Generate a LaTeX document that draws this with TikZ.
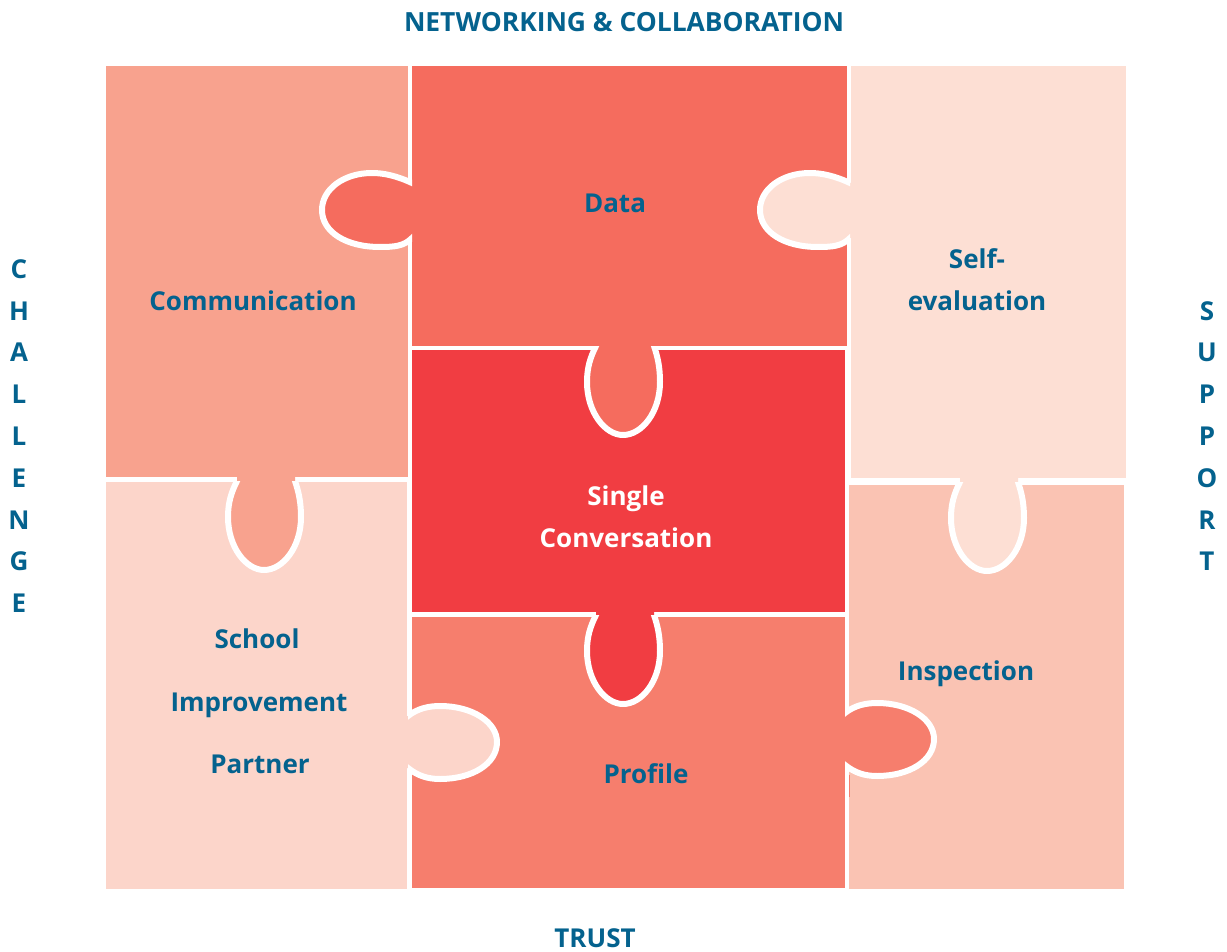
\documentclass[tikz,border=0pt]{standalone}
\usepackage{fontspec}
\setmainfont{Open Sans}[BoldFont={Open Sans Bold}]
\definecolor{ccomm}{HTML}{F8A28E}
\definecolor{cdata}{HTML}{F56C5E}
\definecolor{ccent}{HTML}{F13D42}
\definecolor{cself}{HTML}{FDDFD4}
\definecolor{cschool}{HTML}{FCD5CA}
\definecolor{cprof}{HTML}{F67E6D}
\definecolor{cinsp}{HTML}{FAC3B3}
\definecolor{ctext}{HTML}{04628E}
\tikzset{
  lbl/.style={font=\bfseries\fontsize{26}{41.8}\selectfont,text=ctext,inner sep=0pt,align=center,anchor=base},
  vlbl/.style={lbl,anchor=center},
  titlelbl/.style={lbl,font=\bfseries\fontsize{26.4}{41.8}\selectfont},
  tabline/.style={draw=white,line width=6pt,line join=round},
  lefttab/.pic={\fill[pic actions] (96,-27) -- (90,-27) .. controls (75,-34) and (62,-37) .. (50,-37) .. controls (22,-37) and (0,-21) .. (0,0) .. controls (0,22) and (24,37) .. (58,37) .. controls (73,37) and (82,36) .. (90,28) -- (96,28) -- cycle;
    \begin{scope}\clip (-10,-60) rectangle (90,60);
    \draw[tabline] (100,-22) -- (90,-27) .. controls (75,-34) and (62,-37) .. (50,-37) .. controls (22,-37) and (0,-21) .. (0,0) .. controls (0,22) and (24,37) .. (58,37) .. controls (73,37) and (82,36) .. (90,28) -- (100,18);
    \end{scope}},
  downtab/.pic={\fill[pic actions] (-27,-6) -- (-27,0) .. controls (-33,12) and (-36,22) .. (-36,36) .. controls (-36,66) and (-18,89) .. (0,89) .. controls (19,89) and (37,66) .. (37,36) .. controls (37,22) and (35,12) .. (31,0) -- (31,-6) -- cycle;
    \begin{scope}\clip (-60,0) rectangle (60,100);
    \draw[tabline] (-22,-10) -- (-27,0) .. controls (-33,12) and (-36,22) .. (-36,36) .. controls (-36,66) and (-18,89) .. (0,89) .. controls (19,89) and (37,66) .. (37,36) .. controls (37,22) and (35,12) .. (31,0) -- (28,-10);
    \end{scope}},
  righttab/.pic={\fill[pic actions] (-6,-26) -- (0,-26) .. controls (10,-34) and (22,-36) .. (32,-36) .. controls (64,-36) and (89,-20) .. (89,0) .. controls (89,22) and (64,37) .. (32,37) .. controls (20,37) and (10,34) .. (0,26) -- (-6,26) -- cycle;
    \begin{scope}\clip (0,-60) rectangle (100,60);
    \draw[tabline] (-10,-18) -- (0,-26) .. controls (10,-34) and (22,-36) .. (32,-36) .. controls (64,-36) and (89,-20) .. (89,0) .. controls (89,22) and (64,37) .. (32,37) .. controls (20,37) and (10,34) .. (0,26) -- (-10,18);
    \end{scope}}
}
\begin{document}
\begin{tikzpicture}[x=1pt,y=-1pt]
\useasboundingbox (0,0) rectangle (1227,952);
\fill[white] (0,0) rectangle (1227,952);
% puzzle pieces
\fill[ccomm] (106,66) rectangle (408,477);
\fill[cdata] (412,66) rectangle (847,346);
\fill[cself] (851,66) rectangle (1126,478);
\fill[cschool] (106,482) rectangle (407,889);
\fill[ccent] (412,350) rectangle (845,612);
\fill[cprof] (412,617) rectangle (845,888);
\fill[cinsp] (849,485) rectangle (1124,889);
\fill[cprof] (848.7,775) rectangle (849.7,797);
% tabs
\pic[fill=cdata] at (322,210) {lefttab};
\pic[fill=cself] at (760,210) {lefttab};
\pic[fill=cdata] at (623,346) {downtab};
\pic[fill=ccomm] at (264,481) {downtab};
\pic[fill=ccent] at (623,615) {downtab};
\pic[fill=cself] at (987,482) {downtab};
\pic[fill=cschool] at (408,742) {righttab};
\pic[fill=cprof] at (845,739) {righttab};
% labels
\node[titlelbl] (title) at (624,32) {NETWORKING \& COLLABORATION};
\node[lbl] (trust) at (595,947.5) {TRUST};
\node[vlbl] (challenge) at (19,436) {C\\H\\A\\L\\L\\E\\N\\G\\E};
\node[vlbl] (support) at (1207,436) {S\\U\\P\\P\\O\\R\\T};
\node[lbl] (data) at (615,213) {Data};
\node[lbl] (comm) at (253,311) {Communication};
\node[lbl] (self) at (977,310) {Self-\\evaluation};
\node[lbl,text=white] (single) at (626,547) {Single\\Conversation};
\node[lbl] (school) at (257,648) {School};
\node[lbl] (improve) at (259,711) {Improvement};
\node[lbl] (partner) at (260,773) {Partner};
\node[lbl] (profile) at (646,783) {Profile};
\node[lbl] (insp) at (966,680) {Inspection};
\end{tikzpicture}
\end{document}
